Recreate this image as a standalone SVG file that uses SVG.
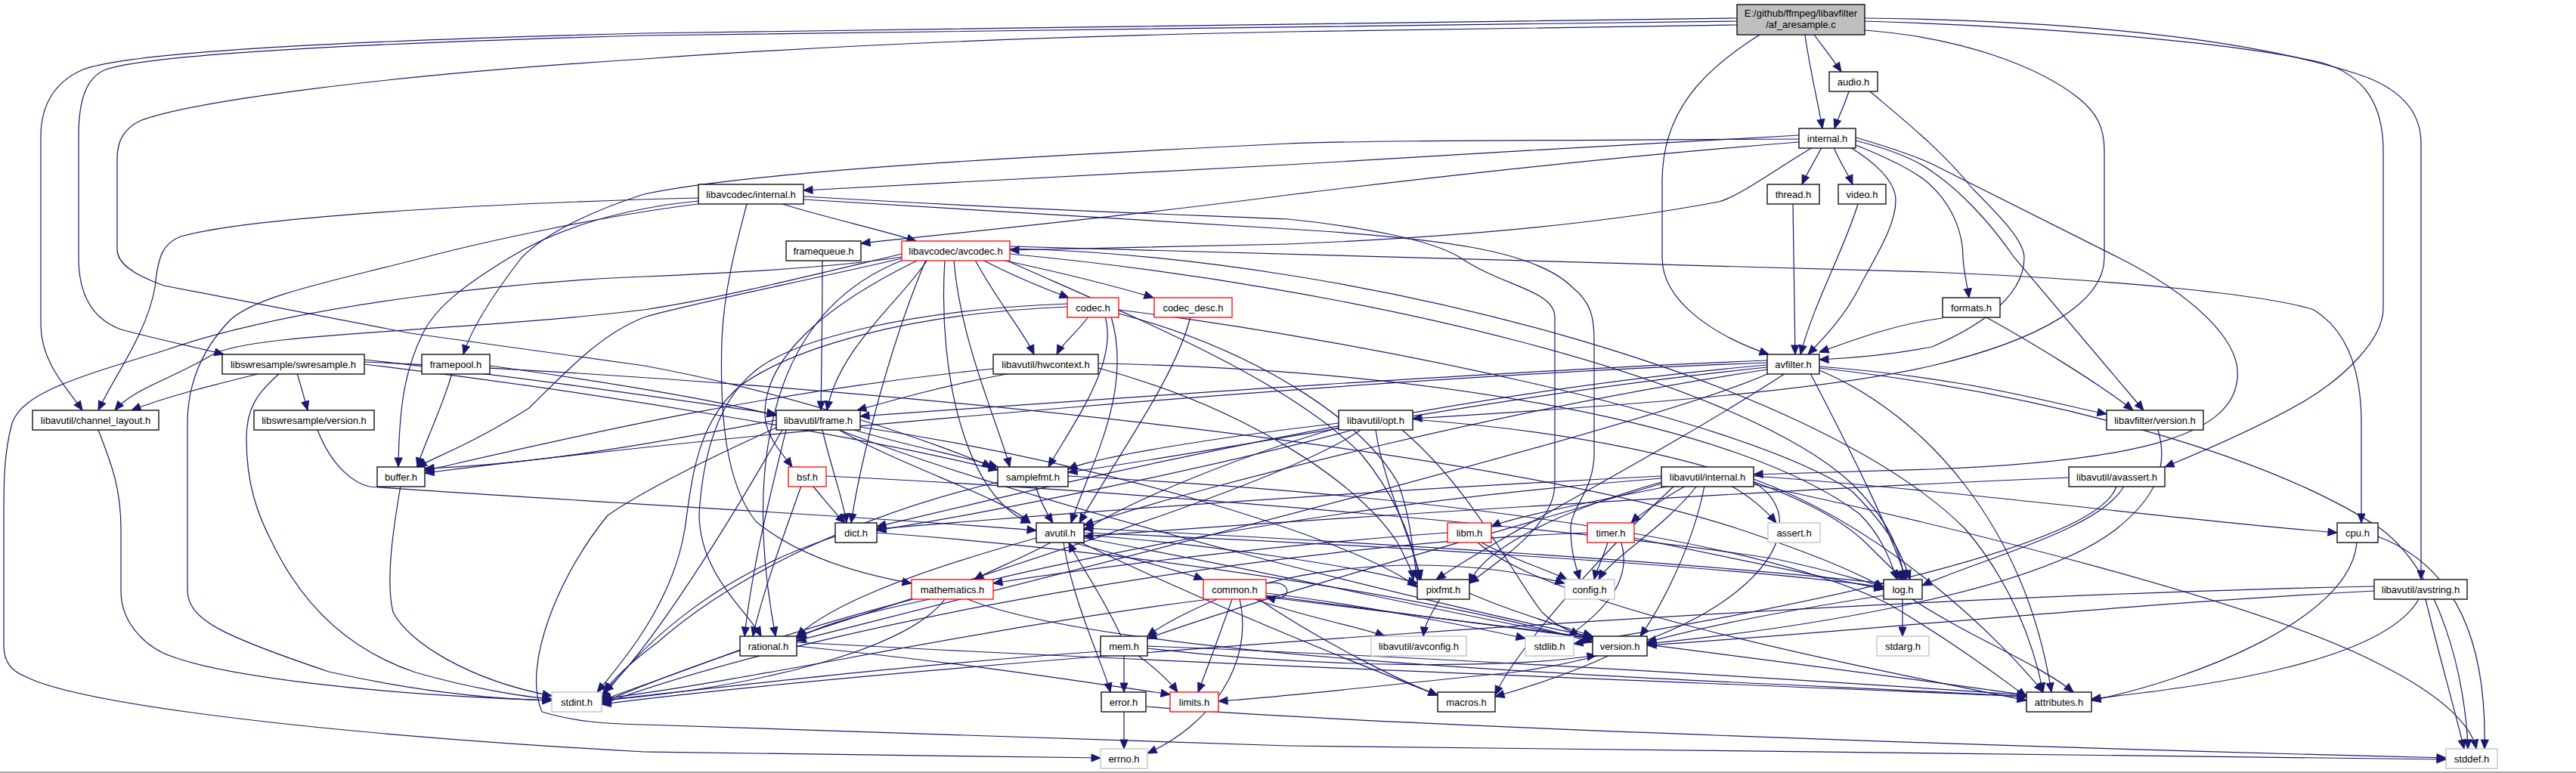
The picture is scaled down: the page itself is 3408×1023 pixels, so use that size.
<svg xmlns="http://www.w3.org/2000/svg" width="3408" height="1023" viewBox="0 0 3408 1023">
<defs>
<style>
.n rect{fill:#ffffff;stroke:#000000;stroke-width:1.3}
.n.r rect{stroke:#ff0000}
.n.g rect{stroke:#bfbfbf}
.n.m rect{fill:#bfbfbf}
.n text{font-family:"Liberation Sans",Arial,Helvetica,sans-serif;font-size:13px;text-anchor:middle;fill:#000000}
#edges path{fill:none;stroke:#191970;stroke-width:1.2;marker-end:url(#arr)}
</style>
<marker id="arr" markerUnits="userSpaceOnUse" markerWidth="12" markerHeight="10" refX="12" refY="5" orient="auto" overflow="visible"><path d="M0,0L12,5L0,10z" fill="#191970" stroke="#191970" stroke-width="1"/></marker>
</defs>
<rect x="0" y="0" width="3408" height="1023" fill="#ffffff"/>
<rect x="0" y="1021" width="3408" height="2" fill="#a8a8a8"/>
<g id="edges">
<path d="M2400,46 C2412,62 2426,80 2436,95"/>
<path d="M2388,46 C2394,90 2405,135 2411,170"/>
<path d="M2328,46 C2250,95 2199,150 2199,240 L2199,341 C2199,400 2270,445 2340,469"/>
<path d="M2298,24 L852,44 C420,55 170,70 110,92 C72,108 54,140 54,180 L54,430 C54,480 90,515 109,543"/>
<path d="M2298,28 L852,47 C450,58 200,72 140,92 C115,102 104,130 104,180 L104,341 C104,400 130,425 160,436 C220,452 262,460 296,469"/>
<path d="M2298,33 L1704,42 C1400,48 1100,60 852,78 C500,100 250,135 185,160 C165,170 155,185 155,210 L155,330 C155,350 180,365 217,378 L543,441 L852,484 C1050,520 1250,590 1312,618"/>
<path d="M2467,40 C2600,50 2700,90 2750,130 C2775,150 2784,170 2784,200 L2784,341 C2784,400 2700,450 2556,484 C2400,520 2100,540 1869,554"/>
<path d="M2467,28 C2700,35 2950,55 3072,83 C3130,100 3153,140 3153,200 L3153,408 C3153,450 3100,500 3050,530 C2990,565 2920,595 2864,618"/>
<path d="M2467,24 C2800,28 3000,60 3116,97 C3180,117 3203,150 3203,190 L3203,767"/>
<path d="M2446,121 C2440,140 2432,155 2427,170"/>
<path d="M2474,121 C2520,160 2570,200 2610,250 C2650,290 2678,320 2678,341 C2678,400 2600,440 2556,459 C2500,470 2450,474 2407,476"/>
<path d="M2380,179 C2200,190 1900,205 1704,218 C1450,232 1200,245 1063,252"/>
<path d="M2380,184 C2000,186 1800,186 1704,190 C1400,205 1000,225 852,257 C780,280 720,310 690,341 C660,380 625,430 613,469"/>
<path d="M2380,188 C2100,210 1850,240 1704,258 C1500,285 1250,310 1139,322"/>
<path d="M2398,195 C2340,230 2300,260 2274,267 C2100,300 1900,315 1704,323 C1550,327 1420,330 1336,331"/>
<path d="M2410,195 C2400,215 2390,230 2384,244"/>
<path d="M2426,195 C2434,215 2445,230 2451,244"/>
<path d="M2448,195 C2480,215 2508,240 2508,265 C2508,300 2480,341 2460,380 C2440,420 2410,450 2392,469"/>
<path d="M2455,192 C2500,210 2540,230 2556,247 C2585,275 2597,310 2597,341 C2598,360 2603,380 2605,394"/>
<path d="M2455,186 C2510,200 2540,215 2556,227 C2590,250 2630,290 2665,341 L2836,543"/>
<path d="M2455,182 C2500,195 2530,205 2556,217 L2803,341 C2900,390 2965,450 2960,500 C2955,570 2850,610 2556,621 C2450,624 2380,626 2320,628"/>
<path d="M2372,270 C2373,350 2374,420 2375,469"/>
<path d="M2458,270 C2440,330 2400,400 2382,469"/>
<path d="M2570,421 C2500,430 2440,455 2407,466"/>
<path d="M2628,420 C2700,460 2780,510 2822,543"/>
<path d="M924,262 C600,270 320,290 239,313 C215,322 209,340 205,380 C195,440 150,500 130,543"/>
<path d="M924,266 C830,275 740,300 674,341 C610,380 576,408 560,440 C535,490 528,540 527,618"/>
<path d="M924,270 C800,285 640,320 560,341 C450,370 340,390 304,424 C260,470 248,520 248,560 L248,782 C250,820 290,840 435,889 C550,915 650,925 730,927"/>
<path d="M1035,270 C1100,290 1170,305 1212,319"/>
<path d="M988,270 C975,320 958,380 955,450 C952,550 960,640 1000,690 C1060,740 1150,762 1206,772"/>
<path d="M1063,260 C1400,280 1600,285 1704,290 C1800,300 1894,317 1932,341 C1990,380 2057,384 2057,420 L2057,640 C2057,690 2000,730 1944,772"/>
<path d="M1063,264 C1400,285 1600,296 1704,303 C1900,315 2030,330 2080,380 C2105,400 2109,420 2109,450 L2109,600 C2109,650 2078,670 2078,700 C2078,730 2085,750 2090,767"/>
<path d="M1088,344 C1088,420 1087,480 1086,543"/>
<path d="M598,494 C585,540 560,590 552,618"/>
<path d="M648,484 C800,505 950,530 1027,550"/>
<path d="M1193,340 C1100,355 950,362 852,366 C700,372 400,400 217,464 C100,500 30,520 16,560 C5,600 5,640 5,682 L5,855 C5,880 20,890 33,895 C100,930 400,970 852,995 C1100,1000 1350,1003 1456,1003"/>
<path d="M1193,336 C1050,370 950,395 852,410 C600,440 330,440 280,470 C230,500 175,515 152,543"/>
<path d="M1193,342 C1050,375 900,405 852,420 C800,440 760,480 700,540 C620,590 575,605 552,618"/>
<path d="M1262,344 C1270,450 1320,560 1336,618"/>
<path d="M1250,344 C1240,500 1280,660 1363,692"/>
<path d="M1225,344 C1180,450 1140,600 1126,692"/>
<path d="M1227,344 C1190,400 1110,460 1094,543"/>
<path d="M1290,344 C1320,400 1355,440 1368,469"/>
<path d="M1300,344 C1340,365 1390,385 1414,394"/>
<path d="M1325,344 C1400,360 1480,380 1526,394"/>
<path d="M1215,344 C1100,400 1010,470 1012,550 C1014,580 1035,600 1048,618"/>
<path d="M1336,336 C1800,380 2300,500 2450,640 C2500,690 2515,730 2519,767"/>
<path d="M1330,344 C1500,420 1700,500 1800,600 C1850,660 1870,720 1878,767"/>
<path d="M1195,344 C1000,420 990,650 1026,842"/>
<path d="M1336,329 C1800,340 2400,500 2600,700 C2660,770 2690,850 2703,916"/>
<path d="M1336,326 C1600,335 2000,345 2556,360 C2800,370 3000,390 3061,410 C3110,440 3124,500 3124,560 L3124,692"/>
<path d="M1440,419 C1425,440 1405,455 1398,469"/>
<path d="M1462,419 C1480,480 1420,560 1387,618"/>
<path d="M1470,419 C1500,520 1440,620 1417,692"/>
<path d="M1412,402 C1200,410 1050,450 1000,490 C950,530 930,600 925,680 C925,760 990,810 1007,842"/>
<path d="M1412,406 C1200,415 1050,460 980,510 C920,560 915,640 906,700 C890,800 820,880 790,916"/>
<path d="M1480,410 C1800,450 2300,550 2450,650 C2500,700 2515,730 2527,767"/>
<path d="M1480,415 C1650,460 1800,550 1850,640 C1868,690 1870,740 1875,767"/>
<path d="M1575,419 C1555,500 1480,600 1428,692"/>
<path d="M1337,494 C1250,510 1180,530 1134,543"/>
<path d="M1314,488 C1000,520 750,580 562,623"/>
<path d="M1453,481 C1900,490 2300,560 2460,680 C2490,710 2500,740 2510,767"/>
<path d="M1453,487 C1650,540 1800,640 1850,720 C1860,740 1868,755 1870,767"/>
<path d="M345,494 C280,510 220,525 174,543"/>
<path d="M393,494 C398,510 402,525 407,543"/>
<path d="M370,494 C340,520 326,541 326,580 C326,640 340,680 361,720 C400,800 460,860 550,890 C620,910 690,922 730,925"/>
<path d="M482,476 C700,500 900,530 1027,548"/>
<path d="M482,482 C800,520 1150,580 1320,622"/>
<path d="M482,479 C1200,510 2000,600 2300,700 C2420,740 2470,765 2492,778"/>
<path d="M420,569 C440,620 470,640 489,644 C700,660 1100,680 1371,702"/>
<path d="M130,569 C150,620 160,650 160,700 L160,782 C160,830 200,860 228,869 C300,895 500,920 730,927"/>
<path d="M530,643 C520,700 510,770 520,810 C540,850 620,900 730,921"/>
<path d="M1075,643 C1090,660 1105,680 1118,692"/>
<path d="M1060,643 C1040,700 1010,780 996,842"/>
<path d="M1093,630 C1500,650 2100,700 2350,740 C2420,755 2470,770 2492,777"/>
<path d="M1370,643 C1375,660 1385,680 1393,692"/>
<path d="M1320,638 C1100,690 950,780 870,850 C830,880 810,900 799,916"/>
<path d="M1413,630 C1800,650 2300,700 2500,800 C2600,860 2650,900 2681,922"/>
<path d="M1771,560 C1600,580 1450,605 1413,621"/>
<path d="M1771,566 C1650,600 1500,660 1434,702"/>
<path d="M1790,569 C1600,620 1300,680 1160,702"/>
<path d="M1800,569 C1700,640 1300,760 1054,842"/>
<path d="M1820,569 C1830,640 1870,720 1880,767"/>
<path d="M1869,555 C2200,580 2400,650 2470,720 C2495,745 2510,760 2519,767"/>
<path d="M1855,569 C1950,650 2000,760 2040,810 C2060,830 2080,838 2107,845"/>
<path d="M2338,477 C2000,490 1500,525 1138,551"/>
<path d="M2338,480 C1800,500 1000,570 562,626"/>
<path d="M2338,483 C1900,520 1400,640 1160,697"/>
<path d="M2338,486 C2000,520 1600,600 1413,625"/>
<path d="M2338,489 C2000,540 1600,640 1434,695"/>
<path d="M2340,494 C2200,560 1400,760 1054,848"/>
<path d="M2362,494 C2200,600 2000,700 1900,767"/>
<path d="M2407,485 C2600,500 2700,530 2787,548"/>
<path d="M2395,494 C2450,600 2500,700 2522,767"/>
<path d="M2407,490 C2550,550 2680,700 2714,916"/>
<path d="M2407,487 C2700,520 3000,600 3150,700 C3230,760 3262,900 3265,991"/>
<path d="M2855,569 C2870,620 2850,660 2800,700 C2700,780 2400,830 2179,852"/>
<path d="M2290,643 C2320,660 2340,680 2350,692"/>
<path d="M2230,643 C2200,660 2170,680 2158,692"/>
<path d="M2210,643 C2100,665 2000,685 1973,697"/>
<path d="M2245,643 C2200,700 2130,740 2115,767"/>
<path d="M2255,643 C2240,720 2200,800 2170,842"/>
<path d="M2198,638 C2050,680 1960,730 1944,772"/>
<path d="M2198,630 C1800,650 1400,680 1160,700"/>
<path d="M2198,640 C2000,700 1700,780 1518,845"/>
<path d="M2198,633 C1600,680 1100,800 796,930"/>
<path d="M2215,643 C2100,750 2000,870 1978,920"/>
<path d="M2320,638 C2420,700 2300,850 2000,890 C1800,910 1700,922 1612,928"/>
<path d="M2320,630 C2600,650 2900,690 3092,705"/>
<path d="M2320,634 C2500,700 2650,850 2703,916"/>
<path d="M2320,641 C2600,700 3000,800 3150,880 C3230,920 3270,960 3276,991"/>
<path d="M2737,632 C2300,650 1700,690 1434,710"/>
<path d="M2810,643 C2780,700 2620,740 2543,775"/>
<path d="M2800,643 C2780,720 2400,800 2082,852"/>
<path d="M1105,710 C950,760 850,850 796,925"/>
<path d="M1160,705 C1500,730 1900,790 2107,850"/>
<path d="M1390,718 C1350,740 1310,755 1289,767"/>
<path d="M1420,718 C1500,740 1560,755 1592,767"/>
<path d="M1407,718 C1420,800 1460,880 1469,916"/>
<path d="M1371,712 C1200,760 1100,800 1054,842"/>
<path d="M1434,712 C1700,760 1950,820 2107,846"/>
<path d="M1430,718 C1600,800 1800,880 1902,920"/>
<path d="M1434,705 C1800,720 2300,750 2492,777"/>
<path d="M1434,708 C1600,720 1800,750 1875,772"/>
<path d="M1483,842 C1460,790 1430,750 1414,718"/>
<path d="M2492,772 C2200,740 1700,712 1434,699"/>
<path d="M1960,718 C2000,740 2050,755 2073,767"/>
<path d="M1955,718 C2050,800 2400,870 2681,927"/>
<path d="M1915,705 C1700,720 1450,750 1314,772"/>
<path d="M2127,718 C2120,740 2112,755 2109,767"/>
<path d="M2162,712 C2300,740 2420,765 2492,780"/>
<path d="M2145,718 C2160,770 2120,810 2075,842"/>
<path d="M2100,705 C1700,720 1100,820 796,932"/>
<path d="M3118,718 C3110,820 2900,900 2767,927"/>
<path d="M3146,710 C3250,750 3290,850 3287,991"/>
<path d="M1230,793 C1150,810 1090,825 1054,845"/>
<path d="M1250,793 C1200,860 1000,910 796,927"/>
<path d="M1280,793 C1500,880 2300,900 2681,922"/>
<path d="M1610,793 C1570,810 1540,825 1518,842"/>
<path d="M1630,793 C1610,850 1595,890 1585,916"/>
<path d="M1640,793 C1660,880 1600,960 1518,997"/>
<path d="M1600,793 C1300,830 1000,900 796,925"/>
<path d="M1675,785 C1800,800 1950,830 2018,845"/>
<path d="M1675,790 C2000,830 2400,880 2681,920"/>
<path d="M1665,793 C1750,850 1850,900 1902,920"/>
<path d="M1675,788 C1850,810 2000,830 2107,845"/>
<path d="M1660,793 C1720,815 1800,830 1832,842"/>
<path d="M1675,772 C1800,740 1950,740 2070,772"/>
<path d="M1675,772 C1712,765 1712,800 1675,790"/>
<path d="M1905,793 C1895,810 1885,825 1883,842"/>
<path d="M1944,785 C2000,810 2070,830 2107,842"/>
<path d="M2517,793 L2517,842"/>
<path d="M2530,793 C2600,840 2700,880 2743,916"/>
<path d="M2492,788 C2350,810 2250,830 2179,850"/>
<path d="M3209,793 C3225,860 3245,930 3260,991"/>
<path d="M3200,793 C3150,880 2900,910 2767,925"/>
<path d="M3141,776 C2400,790 1200,880 796,932"/>
<path d="M3141,782 C2800,800 2400,840 2179,854"/>
<path d="M979,860 C900,890 840,910 796,927"/>
<path d="M1054,855 C1300,880 1450,905 1548,919"/>
<path d="M1054,850 C1600,880 2300,905 2681,922"/>
<path d="M1487,867 L1487,916"/>
<path d="M1505,867 C1530,885 1550,905 1558,916"/>
<path d="M1456,862 C1200,880 950,910 796,927"/>
<path d="M1518,855 C1900,870 2400,900 2681,920"/>
<path d="M1518,858 C1750,885 2000,885 2112,867"/>
<path d="M1487,942 L1487,991"/>
<path d="M1516,935 C1800,960 2700,990 3236,1003"/>
<path d="M2130,867 C2080,890 2020,910 1978,922"/>
<path d="M1027,566 C930,610 850,650 804,682 C740,760 690,880 717,942 C760,955 800,958 852,959 C1300,975 1600,985 1704,987 C2200,993 2900,1000 3236,1005"/>
<path d="M1035,569 C960,700 860,860 799,916"/>
<path d="M1110,569 C1200,620 1330,660 1363,692"/>
<path d="M1027,556 C850,590 700,615 562,620"/>
<path d="M1088,569 C1100,620 1115,660 1120,692"/>
<path d="M1040,569 C1020,650 995,750 985,842"/>
<path d="M1130,569 C1200,590 1280,605 1320,618"/>
<path d="M1138,565 C1500,620 1800,720 1875,777"/>
<path d="M1110,569 C1400,680 1900,800 2107,843"/>
</g>
<g id="node-main" class="n m"><rect x="2298" y="6" width="169" height="40"/><text x="2382.5" y="22">E:/github/ffmpeg/libavfilter</text><text x="2382.5" y="37">/af_aresample.c</text></g>
<g id="node-audio" class="n"><rect x="2420" y="95" width="64" height="26"/><text x="2452" y="113">audio.h</text></g>
<g id="node-internal" class="n"><rect x="2380" y="170" width="75" height="26"/><text x="2417.5" y="188">internal.h</text></g>
<g id="node-lavc-internal" class="n"><rect x="924" y="244" width="139" height="26"/><text x="993.5" y="262">libavcodec/internal.h</text></g>
<g id="node-thread" class="n"><rect x="2338" y="244" width="69" height="26"/><text x="2372.5" y="262">thread.h</text></g>
<g id="node-video" class="n"><rect x="2432" y="244" width="63" height="26"/><text x="2463.5" y="262">video.h</text></g>
<g id="node-framequeue" class="n"><rect x="1040" y="319" width="99" height="26"/><text x="1089.5" y="337">framequeue.h</text></g>
<g id="node-avcodec" class="n r"><rect x="1193" y="319" width="143" height="26"/><text x="1264.5" y="337">libavcodec/avcodec.h</text></g>
<g id="node-codec" class="n r"><rect x="1412" y="394" width="68" height="26"/><text x="1446" y="412">codec.h</text></g>
<g id="node-codec-desc" class="n r"><rect x="1527" y="394" width="103" height="26"/><text x="1578.5" y="412">codec_desc.h</text></g>
<g id="node-formats" class="n"><rect x="2570" y="394" width="76" height="26"/><text x="2608" y="412">formats.h</text></g>
<g id="node-swresample" class="n"><rect x="294" y="469" width="188" height="26"/><text x="388" y="487">libswresample/swresample.h</text></g>
<g id="node-framepool" class="n"><rect x="558" y="469" width="90" height="26"/><text x="603" y="487">framepool.h</text></g>
<g id="node-hwcontext" class="n"><rect x="1314" y="469" width="139" height="26"/><text x="1383.5" y="487">libavutil/hwcontext.h</text></g>
<g id="node-avfilter" class="n"><rect x="2338" y="469" width="69" height="26"/><text x="2372.5" y="487">avfilter.h</text></g>
<g id="node-channel-layout" class="n"><rect x="43" y="543" width="167" height="26"/><text x="126.5" y="561">libavutil/channel_layout.h</text></g>
<g id="node-swr-version" class="n"><rect x="336" y="543" width="159" height="26"/><text x="415.5" y="561">libswresample/version.h</text></g>
<g id="node-frame" class="n"><rect x="1027" y="543" width="111" height="26"/><text x="1082.5" y="561">libavutil/frame.h</text></g>
<g id="node-opt" class="n"><rect x="1771" y="543" width="98" height="26"/><text x="1820" y="561">libavutil/opt.h</text></g>
<g id="node-lavfi-version" class="n"><rect x="2787" y="543" width="128" height="26"/><text x="2851" y="561">libavfilter/version.h</text></g>
<g id="node-buffer" class="n"><rect x="499" y="618" width="63" height="26"/><text x="530.5" y="636">buffer.h</text></g>
<g id="node-bsf" class="n r"><rect x="1043" y="618" width="50" height="26"/><text x="1068" y="636">bsf.h</text></g>
<g id="node-samplefmt" class="n"><rect x="1320" y="618" width="93" height="26"/><text x="1366.5" y="636">samplefmt.h</text></g>
<g id="node-lavu-internal" class="n"><rect x="2198" y="618" width="122" height="26"/><text x="2259" y="636">libavutil/internal.h</text></g>
<g id="node-avassert" class="n"><rect x="2737" y="618" width="127" height="26"/><text x="2800.5" y="636">libavutil/avassert.h</text></g>
<g id="node-dict" class="n"><rect x="1105" y="692" width="55" height="26"/><text x="1132.5" y="710">dict.h</text></g>
<g id="node-avutil" class="n"><rect x="1371" y="692" width="63" height="26"/><text x="1402.5" y="710">avutil.h</text></g>
<g id="node-libm" class="n r"><rect x="1915" y="692" width="58" height="26"/><text x="1944" y="710">libm.h</text></g>
<g id="node-timer" class="n r"><rect x="2100" y="692" width="62" height="26"/><text x="2131" y="710">timer.h</text></g>
<g id="node-assert" class="n g"><rect x="2339" y="692" width="69" height="26"/><text x="2373.5" y="710">assert.h</text></g>
<g id="node-cpu" class="n"><rect x="3092" y="692" width="54" height="26"/><text x="3119" y="710">cpu.h</text></g>
<g id="node-mathematics" class="n r"><rect x="1206" y="767" width="108" height="26"/><text x="1260" y="785">mathematics.h</text></g>
<g id="node-common" class="n r"><rect x="1592" y="767" width="83" height="26"/><text x="1633.5" y="785">common.h</text></g>
<g id="node-pixfmt" class="n"><rect x="1875" y="767" width="69" height="26"/><text x="1909.5" y="785">pixfmt.h</text></g>
<g id="node-config" class="n g"><rect x="2070" y="767" width="66" height="26"/><text x="2103" y="785">config.h</text></g>
<g id="node-log" class="n"><rect x="2492" y="767" width="51" height="26"/><text x="2517.5" y="785">log.h</text></g>
<g id="node-avstring" class="n"><rect x="3141" y="767" width="123" height="26"/><text x="3202.5" y="785">libavutil/avstring.h</text></g>
<g id="node-rational" class="n"><rect x="979" y="842" width="75" height="26"/><text x="1016.5" y="860">rational.h</text></g>
<g id="node-mem" class="n"><rect x="1456" y="842" width="62" height="26"/><text x="1487" y="860">mem.h</text></g>
<g id="node-avconfig" class="n g"><rect x="1814" y="842" width="126" height="26"/><text x="1877" y="860">libavutil/avconfig.h</text></g>
<g id="node-stdlib" class="n g"><rect x="2018" y="842" width="64" height="26"/><text x="2050" y="860">stdlib.h</text></g>
<g id="node-version" class="n"><rect x="2107" y="842" width="72" height="26"/><text x="2143" y="860">version.h</text></g>
<g id="node-stdarg" class="n g"><rect x="2483" y="842" width="69" height="26"/><text x="2517.5" y="860">stdarg.h</text></g>
<g id="node-stdint" class="n g"><rect x="730" y="916" width="66" height="26"/><text x="763" y="934">stdint.h</text></g>
<g id="node-error" class="n"><rect x="1457" y="916" width="59" height="26"/><text x="1486.5" y="934">error.h</text></g>
<g id="node-limits" class="n r"><rect x="1548" y="916" width="64" height="26"/><text x="1580" y="934">limits.h</text></g>
<g id="node-macros" class="n"><rect x="1902" y="916" width="76" height="26"/><text x="1940" y="934">macros.h</text></g>
<g id="node-attributes" class="n"><rect x="2681" y="916" width="86" height="26"/><text x="2724" y="934">attributes.h</text></g>
<g id="node-errno" class="n g"><rect x="1456" y="991" width="62" height="26"/><text x="1487" y="1009">errno.h</text></g>
<g id="node-stddef" class="n g"><rect x="3236" y="991" width="68" height="26"/><text x="3270" y="1009">stddef.h</text></g>
</svg>
